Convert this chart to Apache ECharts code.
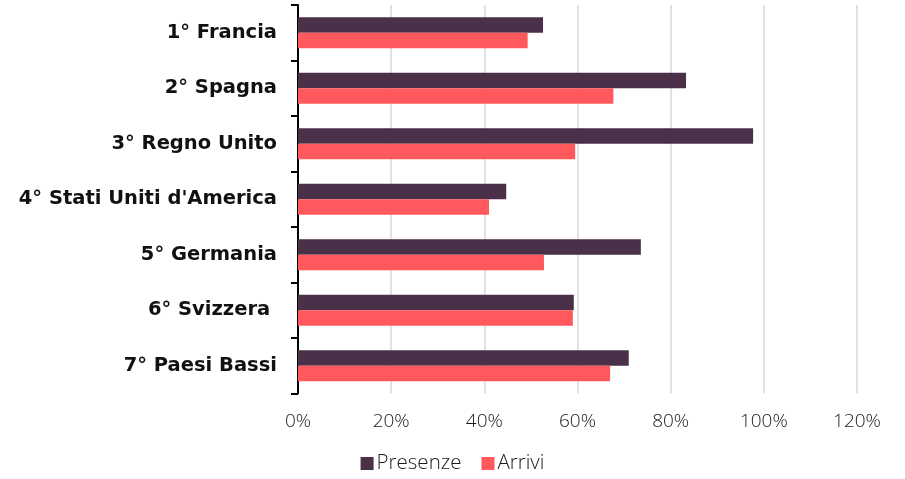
<!DOCTYPE html>
<html>
<head>
<meta charset="utf-8">
<script src="https://cdn.jsdelivr.net/npm/echarts@6/dist/echarts.min.js"></script>
<style>
  html, body { margin: 0; padding: 0; background: #fff; }
  #chart { width: 905px; height: 479px; }
</style>
</head>
<body>
<div id="chart"></div>
<script>
// Ranking of foreign markets: share of presences and arrivals (%)
const categories = [
  '1° Francia',
  '2° Spagna',
  '3° Regno Unito',
  "4° Stati Uniti d'America",
  '5° Germania',
  '6° Svizzera ',
  '7° Paesi Bassi'
];
const presenze = [52.6, 83.3, 97.7, 44.7, 73.6, 59.2, 71.0];
const arrivi   = [49.3, 67.7, 59.5, 41.0, 52.8, 59.0, 67.0];
const xTicks = [0, 20, 40, 60, 80, 100, 120];

const chart = echarts.init(document.getElementById('chart'), null, { renderer: 'canvas' });

chart.setOption({
  animation: false,
  textStyle: { fontFamily: 'Open Sans, sans-serif' },
  grid: { left: 298, right: 48, top: 5, bottom: 85.5, containLabel: false },
  legend: {
    data: ['Presenze', 'Arrivi'],
    bottom: 0,
    left: 'center',
    icon: 'rect',
    itemWidth: 13,
    itemHeight: 13,
    itemGap: 20,
    textStyle: { fontSize: 20.5, color: '#1a1a1a', fontWeight: 300, fontFamily: 'Open Sans', padding: [0, 0, 0, -2] }
  },
  xAxis: {
    type: 'value',
    min: xTicks[0],
    max: xTicks[xTicks.length - 1],
    interval: 20,
    axisLine: { show: false },
    axisTick: { show: false },
    splitLine: { lineStyle: { color: '#d9d9d9', width: 1.5 } },
    axisLabel: {
      formatter: v => v + '%',
      fontSize: 19,
      color: '#1a1a1a',
      fontWeight: 300,
      fontFamily: 'Open Sans',
      margin: 19
    }
  },
  yAxis: {
    type: 'category',
    data: categories,
    inverse: true,
    axisLine: { lineStyle: { color: '#000', width: 2 } },
    axisTick: { show: true, length: 7, lineStyle: { color: '#000', width: 2 } },
    axisLabel: {
      fontSize: 19.5,
      fontWeight: 'bold',
      color: '#111',
      fontFamily: 'DejaVu Sans',
      margin: 21,
      padding: [3, 0, 0, 0]
    }
  },
  series: [
    {
      name: 'Presenze',
      type: 'bar',
      data: presenze,
      barWidth: 15.5,
      barGap: '0%',
      itemStyle: { color: '#4B3049' }
    },
    {
      name: 'Arrivi',
      type: 'bar',
      data: arrivi,
      barWidth: 15.5,
      barGap: '0%',
      itemStyle: { color: '#FF585D' }
    }
  ]
});
</script>
</body>
</html>
